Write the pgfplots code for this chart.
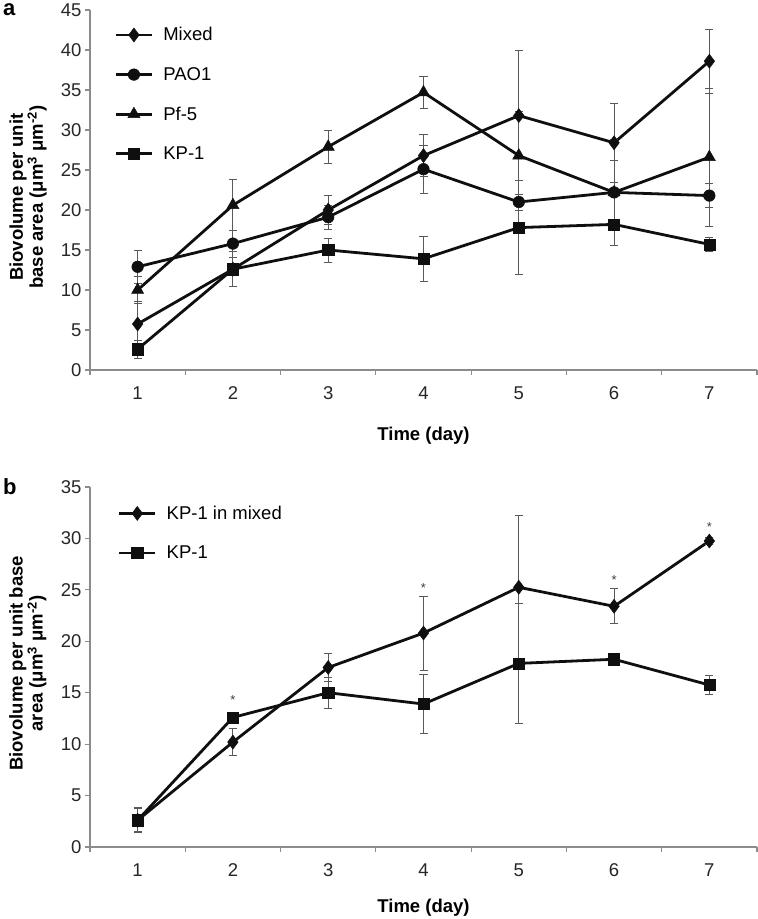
\documentclass[border=0pt]{standalone}
\usepackage{fontspec}
\setmainfont{Liberation Sans}
\usepackage{pgfplots}
\pgfplotsset{compat=1.18}

\definecolor{axgray}{gray}{0.55}
\definecolor{errgray}{gray}{0.35}
\definecolor{ink}{gray}{0.06}

\newcommand{\fs}[1]{\fontsize{#1}{#1}\selectfont}

\pgfplotsset{
  biofilm/.style={
    scale only axis, width=667bp, height=360bp,
    xmin=0.5, xmax=7.5, ymin=0,
    axis x line*=bottom, axis y line*=left,
    axis line style={axgray, line width=1.2bp},
    xtick={1,...,7}, minor xtick={0.5,1.5,...,7.5},
    major x tick style={draw=none},
    tick align=outside, major tick length=5bp, minor tick length=5bp,
    every tick/.style={axgray, line width=1.2bp},
    /pgf/number format/assume math mode=true,
    tick label style={font=\fs{18.5bp}, text=black!85},
    x tick label style={yshift=-8bp},
    xlabel={Time (day)},
    label style={font=\bfseries\fontsize{18.5bp}{20bp}\selectfont},
    legend cell align=left,
    legend style={draw=none, fill=none, anchor=north west,
      font=\fs{18.5bp}, row sep=21bp,
      /tikz/every odd column/.append style={column sep=8bp}},
    legend image code/.code={
      \draw[mark repeat=2,mark phase=2] plot coordinates {(0bp,0bp)(18bp,0bp)(36bp,0bp)};},
    every axis plot/.append style={ink, line width=2.8bp,
      mark options={solid, fill=ink, line width=0.5bp},
      error bars/y dir=both, error bars/y explicit,
      error bars/error bar style={errgray, line width=0.9bp},
      error bars/error mark options={rotate=90, errgray, mark size=4bp, line width=0.9bp}},
  },
  mixed/.style={mark=diamond*, mark size=7bp},
  pao/.style={mark=*, mark size=5.8bp},
  pf/.style={mark=triangle*, mark size=7bp},
  kp/.style={mark=square*, mark size=5.6bp},
}

\begin{document}
\begin{tikzpicture}
\path[use as bounding box] (0,0) rectangle (758bp,919bp);

\node[font=\bfseries\fs{22bp}, anchor=base west, inner sep=0pt] at (3bp,903bp) {a};
\node[font=\bfseries\fs{22bp}, anchor=base west, inner sep=0pt] at (3bp,424bp) {b};

% panel a
\begin{axis}[biofilm, at={(90bp,549bp)}, anchor=south west,
  ymax=45, ytick={0,5,...,45},
  ylabel={Biovolume per unit\\base area (μm\textsuperscript{3} μm\textsuperscript{-2})},
  ylabel style={align=center, at={(axis description cs:-0.093,0.48)}, anchor=center},
  xlabel style={at={(axis description cs:0.5,-0.183)}, anchor=center},
  legend style={at={(axis description cs:0.032,0.963)}},
]
\addplot[mixed] coordinates {
(1,5.75) +- (0,2.8) (2,12.6) +- (0,2.2) (3,20.0) +- (0,1.8) (4,26.8) +- (0,2.6)
(5,31.8) +- (0,8.1) (6,28.4) +- (0,4.9) (7,38.6) +- (0,4.0)};
\addlegendentry{Mixed}
\addplot[pao] coordinates {
(1,12.9) +- (0,2.1) (2,15.8) +- (0,1.7) (3,19.1) +- (0,1.5) (4,25.1) +- (0,3.0)
(5,21.0) +- (0,1.0) (6,22.2) +- (0,6.6) (7,21.8) +- (0,1.5)};
\addlegendentry{PAO1}
\addplot[pf] coordinates {
(1,10.0) +- (0,1.7) (2,20.6) +- (0,3.2) (3,27.9) +- (0,2.1) (4,34.7) +- (0,2.0)
(5,26.8) +- (0,5.5) (6,22.2) +- (0,4.0) (7,26.6) +- (0,8.6)};
\addlegendentry{Pf-5}
\addplot[kp] coordinates {
(1,2.6) +- (0,1.1) (2,12.6) +- (0,0.5) (3,15.0) +- (0,1.5) (4,13.9) +- (0,2.8)
(5,17.8) +- (0,5.85) (6,18.2) +- (0,0.3) (7,15.7) +- (0,0.9)};
\addlegendentry{KP-1}
\end{axis}

% panel b
\begin{axis}[biofilm, at={(90bp,72bp)}, anchor=south west,
  ymax=35, ytick={0,5,...,35},
  ylabel={Biovolume per unit base\\area (μm\textsuperscript{3} μm\textsuperscript{-2})},
  ylabel style={align=center, at={(axis description cs:-0.093,0.51)}, anchor=center},
  xlabel style={at={(axis description cs:0.5,-0.17)}, anchor=center},
  legend style={at={(axis description cs:0.037,0.959)}},
]
\addplot[mixed] coordinates {
(1,2.6) +- (0,1.2) (2,10.2) +- (0,1.3) (3,17.45) +- (0,1.4) (4,20.8) +- (0,3.6)
(5,25.25) +- (0,7.0) (6,23.4) +- (0,1.7) (7,29.75) +- (0,0.3)};
\addlegendentry{KP-1 in mixed}
\addplot[kp] coordinates {
(1,2.6) +- (0,1.1) (2,12.6) +- (0,0.5) (3,15.0) +- (0,1.5) (4,13.9) +- (0,2.9)
(5,17.85) +- (0,5.85) (6,18.25) +- (0,0.3) (7,15.75) +- (0,0.9)};
\addlegendentry{KP-1}
\addplot[draw=none, mark=none, forget plot, error bars/y dir=none,
  nodes near coords={*},
  every node near coord/.style={anchor=center, font=\fs{13bp}, text=black!75, yshift=-3bp}]
  coordinates {(2,14.6) (4,25.5) (6,26.2) (7,31.4)};
\end{axis}
\end{tikzpicture}
\end{document}
